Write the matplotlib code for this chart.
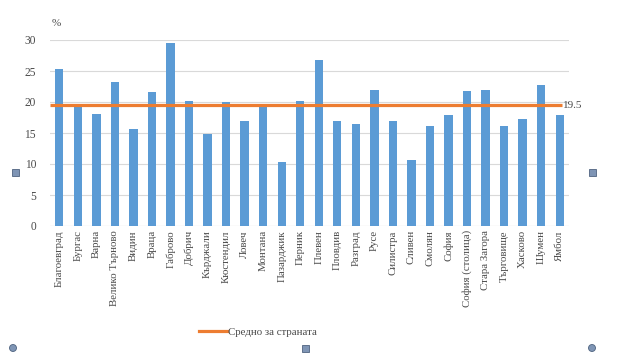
import matplotlib
matplotlib.use("Agg")
import matplotlib.pyplot as plt
from matplotlib.lines import Line2D
from matplotlib.patches import Rectangle, Ellipse
import numpy as np

categories = ["Благоевград", "Бургас", "Варна", "Велико Търново", "Видин", "Враца",
              "Габрово", "Добрич", "Кърджали", "Кюстендил", "Ловеч", "Монтана",
              "Пазарджик", "Перник", "Плевен", "Пловдив", "Разград", "Русе",
              "Силистра", "Сливен", "Смолян", "София", "София (столица)",
              "Стара Загора", "Търговище", "Хасково", "Шумен", "Ямбол"]
values = [25.3, 19.4, 18.0, 23.2, 15.7, 21.6, 29.5, 20.2, 14.8, 20.0, 16.9, 19.4,
          10.3, 20.2, 26.7, 16.9, 16.5, 21.9, 17.0, 10.6, 16.1, 17.9, 21.8,
          22.0, 16.2, 17.2, 22.8, 17.9]
average = 19.5
avg_label = "Средно за страната"
yticks = [0, 5, 10, 15, 20, 25, 30]

plt.rcParams['font.family'] = ['Liberation Serif', 'DejaVu Serif']
grey = '#4A4A4A'

fig = plt.figure(figsize=(6.2, 3.6), dpi=100)
ax = fig.add_axes([50/620, 1-226/360, 519/620, 186/360])
x = np.arange(len(categories))
ax.bar(x, values, width=0.45, color='#5B9BD5', zorder=2)
ax.plot([-0.5, len(categories)-0.9], [average, average], color='#ED7D31', lw=2.3, zorder=3,
        solid_capstyle='butt')
ax.text(len(categories)-0.85, average, f"{average}", va='center', ha='left', fontsize=8, color=grey)

ax.set_xlim(-0.5, len(categories)-0.5)
ax.set_ylim(0, 30)
ax.set_yticks(yticks)
ax.set_yticklabels([str(t) for t in yticks])
ax.set_xticks(x)
ax.set_xticklabels(categories, rotation=90, fontsize=7.8, color=grey)
ax.tick_params(axis='y', length=0, pad=10, labelsize=8.3, labelcolor=grey)
ax.tick_params(axis='x', length=0, pad=3)
ax.grid(axis='y', color='#D9D9D9', lw=0.8, zorder=0)
for s in ax.spines.values():
    s.set_visible(False)
ax.axhline(0, color='#D9D9D9', lw=0.8, zorder=1)
fig.text(52/620, 1-23/360, "%", fontsize=8, color=grey, va='center', ha='left')

handles = [Line2D([0], [0], color='#ED7D31', lw=2.3)]
fig.legend(handles, [avg_label], loc='center', bbox_to_anchor=(258/620, 1-332/360),
           frameon=False, fontsize=7.8, handlelength=2.5, handletextpad=0.1, labelcolor=grey)

# selection handles (decorative)
hc = '#7F95B5'; he = '#4F6380'
for (px, py) in [(15, 172), (592, 172), (305, 348)]:
    fig.add_artist(Rectangle(((px-3.5)/620, 1-(py+3.5)/360), 7/620, 7/360,
                             transform=fig.transFigure, facecolor=hc, edgecolor=he, lw=0.6))
for (px, py) in [(13, 348), (592, 348)]:
    fig.add_artist(Ellipse((px/620, 1-py/360), 7/620, 7/360, transform=fig.transFigure,
                           facecolor=hc, edgecolor=he, lw=0.6))

fig.savefig("out.png", dpi=100)
